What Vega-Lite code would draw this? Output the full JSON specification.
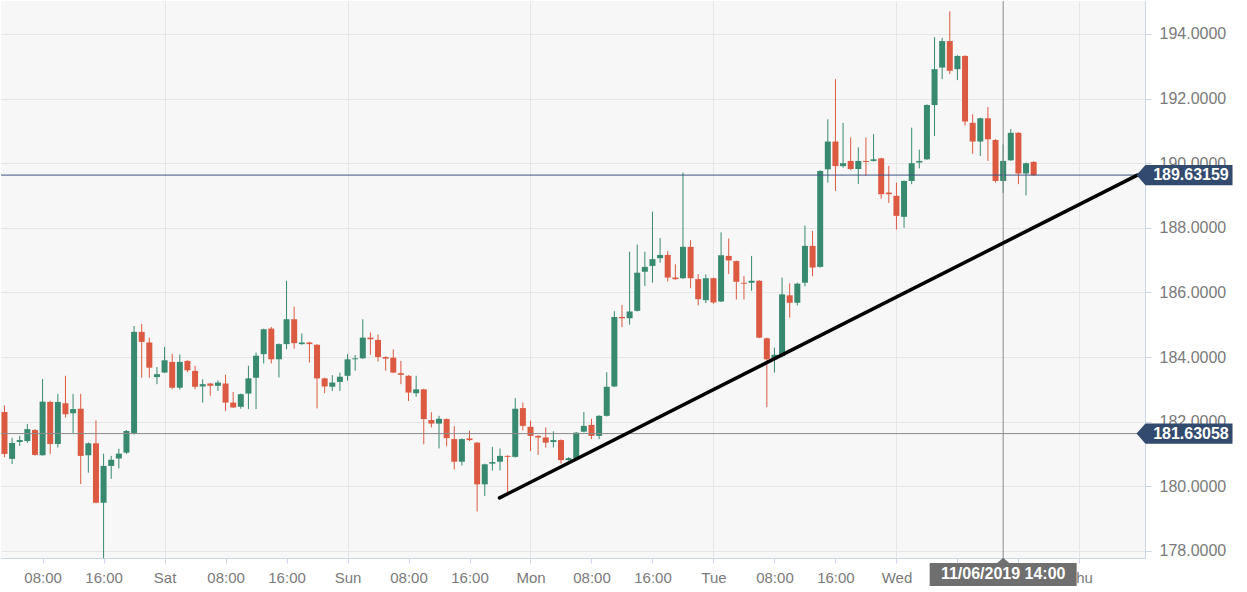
{
  "$schema": "https://vega.github.io/schema/vega-lite/v6.json",
  "width": 1144,
  "height": 557,
  "padding": 0,
  "autosize": {"type": "pad"},
  "background": "white",
  "config": {
    "font": "Liberation Sans",
    "view": {"fill": "#f7f7f7", "stroke": null},
    "axis": {"labelColor": "#7a7a7a", "domainColor": "#ccd6eb", "tickColor": "#ccd6eb", "gridColor": "#e6e6e6"}
  },
  "resolve": {"axis": {"x": "independent", "y": "independent"}},
  "datasets": {
    "candles": [
      {"d":"2019-11-01T03:00","o":182.3,"h":182.5,"l":180.9,"c":181.0},
      {"d":"2019-11-01T04:00","o":180.85,"h":181.5,"l":180.69,"c":181.34},
      {"d":"2019-11-01T05:00","o":181.37,"h":181.56,"l":181.25,"c":181.43},
      {"d":"2019-11-01T06:00","o":181.4,"h":181.93,"l":181.34,"c":181.77},
      {"d":"2019-11-01T07:00","o":181.74,"h":181.77,"l":180.95,"c":180.97},
      {"d":"2019-11-01T08:00","o":180.96,"h":183.32,"l":180.95,"c":182.62},
      {"d":"2019-11-01T09:00","o":182.61,"h":182.65,"l":181.0,"c":181.31},
      {"d":"2019-11-01T10:00","o":181.31,"h":182.86,"l":181.2,"c":182.61},
      {"d":"2019-11-01T11:00","o":182.57,"h":183.42,"l":182.13,"c":182.23},
      {"d":"2019-11-01T12:00","o":182.26,"h":182.86,"l":181.62,"c":182.39},
      {"d":"2019-11-01T13:00","o":182.4,"h":182.86,"l":180.07,"c":180.94},
      {"d":"2019-11-01T14:00","o":180.96,"h":181.36,"l":180.42,"c":181.33},
      {"d":"2019-11-01T15:00","o":181.33,"h":182.04,"l":179.47,"c":179.49},
      {"d":"2019-11-01T16:00","o":179.49,"h":181.01,"l":177.6,"c":180.63},
      {"d":"2019-11-01T17:00","o":180.63,"h":180.94,"l":180.23,"c":180.82},
      {"d":"2019-11-01T18:00","o":180.86,"h":181.16,"l":180.55,"c":181.01},
      {"d":"2019-11-01T19:00","o":181.04,"h":181.74,"l":181.0,"c":181.71},
      {"d":"2019-11-01T20:00","o":181.65,"h":184.96,"l":181.6,"c":184.78},
      {"d":"2019-11-01T21:00","o":184.78,"h":185.02,"l":183.36,"c":184.47},
      {"d":"2019-11-01T22:00","o":184.45,"h":184.6,"l":183.36,"c":183.67},
      {"d":"2019-11-01T23:00","o":183.38,"h":183.69,"l":183.16,"c":183.47},
      {"d":"2019-11-02T00:00","o":183.52,"h":184.31,"l":183.5,"c":183.9},
      {"d":"2019-11-02T01:00","o":183.85,"h":184.1,"l":183.0,"c":183.05},
      {"d":"2019-11-02T02:00","o":183.05,"h":184.08,"l":182.99,"c":183.85},
      {"d":"2019-11-02T03:00","o":183.88,"h":183.9,"l":183.53,"c":183.59},
      {"d":"2019-11-02T04:00","o":183.57,"h":183.73,"l":183.0,"c":183.08},
      {"d":"2019-11-02T05:00","o":183.09,"h":183.31,"l":182.59,"c":183.16},
      {"d":"2019-11-02T06:00","o":183.18,"h":183.2,"l":182.8,"c":183.11},
      {"d":"2019-11-02T07:00","o":183.11,"h":183.28,"l":182.95,"c":183.21},
      {"d":"2019-11-02T08:00","o":183.18,"h":183.45,"l":182.33,"c":182.59},
      {"d":"2019-11-02T09:00","o":182.59,"h":182.92,"l":182.42,"c":182.44},
      {"d":"2019-11-02T10:00","o":182.46,"h":182.87,"l":182.4,"c":182.85},
      {"d":"2019-11-02T11:00","o":182.87,"h":183.73,"l":182.39,"c":183.34},
      {"d":"2019-11-02T12:00","o":183.36,"h":184.14,"l":182.39,"c":184.04},
      {"d":"2019-11-02T13:00","o":184.09,"h":184.88,"l":183.8,"c":184.86},
      {"d":"2019-11-02T14:00","o":184.88,"h":184.93,"l":183.8,"c":183.93},
      {"d":"2019-11-02T15:00","o":183.93,"h":184.42,"l":183.37,"c":184.4},
      {"d":"2019-11-02T16:00","o":184.4,"h":186.36,"l":184.24,"c":185.17},
      {"d":"2019-11-02T17:00","o":185.17,"h":185.56,"l":184.26,"c":184.43},
      {"d":"2019-11-02T18:00","o":184.4,"h":184.73,"l":184.38,"c":184.45},
      {"d":"2019-11-02T19:00","o":184.45,"h":184.47,"l":183.83,"c":184.4},
      {"d":"2019-11-02T20:00","o":184.38,"h":184.4,"l":182.41,"c":183.34},
      {"d":"2019-11-02T21:00","o":183.34,"h":183.36,"l":182.88,"c":183.09},
      {"d":"2019-11-02T22:00","o":183.08,"h":183.44,"l":182.95,"c":183.21},
      {"d":"2019-11-02T23:00","o":183.23,"h":183.52,"l":182.95,"c":183.39},
      {"d":"2019-11-03T00:00","o":183.42,"h":184.09,"l":183.27,"c":183.93},
      {"d":"2019-11-03T01:00","o":183.93,"h":184.06,"l":183.58,"c":183.96},
      {"d":"2019-11-03T02:00","o":183.96,"h":185.17,"l":183.94,"c":184.6},
      {"d":"2019-11-03T03:00","o":184.6,"h":184.76,"l":184.07,"c":184.55},
      {"d":"2019-11-03T04:00","o":184.53,"h":184.7,"l":183.86,"c":184.0},
      {"d":"2019-11-03T05:00","o":184.0,"h":184.02,"l":183.58,"c":183.95},
      {"d":"2019-11-03T06:00","o":183.98,"h":184.24,"l":183.5,"c":183.52},
      {"d":"2019-11-03T07:00","o":183.5,"h":183.88,"l":183.16,"c":183.45},
      {"d":"2019-11-03T08:00","o":183.42,"h":183.44,"l":182.64,"c":182.9},
      {"d":"2019-11-03T09:00","o":182.88,"h":183.42,"l":182.77,"c":183.0},
      {"d":"2019-11-03T10:00","o":183.0,"h":183.02,"l":181.3,"c":182.08},
      {"d":"2019-11-03T11:00","o":182.05,"h":182.29,"l":181.82,"c":181.94},
      {"d":"2019-11-03T12:00","o":181.94,"h":182.18,"l":181.17,"c":182.09},
      {"d":"2019-11-03T13:00","o":182.08,"h":182.1,"l":181.24,"c":181.49},
      {"d":"2019-11-03T14:00","o":181.46,"h":181.86,"l":180.52,"c":180.76},
      {"d":"2019-11-03T15:00","o":180.76,"h":181.48,"l":180.64,"c":181.46},
      {"d":"2019-11-03T16:00","o":181.48,"h":181.72,"l":181.4,"c":181.43},
      {"d":"2019-11-03T17:00","o":181.35,"h":181.37,"l":179.22,"c":180.06},
      {"d":"2019-11-03T18:00","o":180.06,"h":180.7,"l":179.7,"c":180.68},
      {"d":"2019-11-03T19:00","o":180.7,"h":181.22,"l":180.49,"c":180.75},
      {"d":"2019-11-03T20:00","o":180.76,"h":181.17,"l":180.49,"c":180.94},
      {"d":"2019-11-03T21:00","o":180.94,"h":180.96,"l":179.78,"c":180.91},
      {"d":"2019-11-03T22:00","o":180.91,"h":182.73,"l":180.89,"c":182.4},
      {"d":"2019-11-03T23:00","o":182.42,"h":182.59,"l":181.73,"c":181.87},
      {"d":"2019-11-04T00:00","o":181.84,"h":182.03,"l":181.09,"c":181.56},
      {"d":"2019-11-04T01:00","o":181.56,"h":181.58,"l":180.97,"c":181.51},
      {"d":"2019-11-04T02:00","o":181.51,"h":181.82,"l":181.2,"c":181.35},
      {"d":"2019-11-04T03:00","o":181.37,"h":181.7,"l":181.2,"c":181.43},
      {"d":"2019-11-04T04:00","o":181.43,"h":181.45,"l":180.7,"c":180.81},
      {"d":"2019-11-04T05:00","o":180.81,"h":180.9,"l":180.79,"c":180.87},
      {"d":"2019-11-04T06:00","o":180.87,"h":181.68,"l":180.85,"c":181.66},
      {"d":"2019-11-04T07:00","o":181.69,"h":182.3,"l":181.67,"c":181.87},
      {"d":"2019-11-04T08:00","o":181.9,"h":182.09,"l":181.46,"c":181.56},
      {"d":"2019-11-04T09:00","o":181.56,"h":182.2,"l":181.46,"c":182.18},
      {"d":"2019-11-04T10:00","o":182.18,"h":183.53,"l":182.16,"c":183.08},
      {"d":"2019-11-04T11:00","o":183.09,"h":185.42,"l":183.07,"c":185.24},
      {"d":"2019-11-04T12:00","o":185.24,"h":185.61,"l":184.93,"c":185.2},
      {"d":"2019-11-04T13:00","o":185.2,"h":187.26,"l":185.0,"c":185.41},
      {"d":"2019-11-04T14:00","o":185.43,"h":187.48,"l":185.41,"c":186.61},
      {"d":"2019-11-04T15:00","o":186.64,"h":187.26,"l":186.2,"c":186.79},
      {"d":"2019-11-04T16:00","o":186.82,"h":188.5,"l":186.3,"c":187.03},
      {"d":"2019-11-04T17:00","o":187.06,"h":187.68,"l":186.92,"c":187.16},
      {"d":"2019-11-04T18:00","o":187.16,"h":187.28,"l":186.34,"c":186.46},
      {"d":"2019-11-04T19:00","o":186.46,"h":186.87,"l":186.39,"c":186.41},
      {"d":"2019-11-04T20:00","o":186.44,"h":189.71,"l":186.42,"c":187.41},
      {"d":"2019-11-04T21:00","o":187.41,"h":187.62,"l":186.13,"c":186.44},
      {"d":"2019-11-04T22:00","o":186.41,"h":186.56,"l":185.6,"c":185.79},
      {"d":"2019-11-04T23:00","o":185.76,"h":186.56,"l":185.67,"c":186.44},
      {"d":"2019-11-05T00:00","o":186.44,"h":186.46,"l":185.65,"c":185.69},
      {"d":"2019-11-05T01:00","o":185.72,"h":187.86,"l":185.7,"c":187.15},
      {"d":"2019-11-05T02:00","o":187.13,"h":187.67,"l":186.57,"c":186.99},
      {"d":"2019-11-05T03:00","o":186.97,"h":186.99,"l":185.78,"c":186.33},
      {"d":"2019-11-05T04:00","o":186.3,"h":186.51,"l":185.78,"c":186.27},
      {"d":"2019-11-05T05:00","o":186.3,"h":187.13,"l":186.05,"c":186.36},
      {"d":"2019-11-05T06:00","o":186.36,"h":186.38,"l":184.58,"c":184.6},
      {"d":"2019-11-05T07:00","o":184.58,"h":184.6,"l":182.45,"c":183.93},
      {"d":"2019-11-05T08:00","o":183.93,"h":184.29,"l":183.52,"c":184.07},
      {"d":"2019-11-05T09:00","o":184.03,"h":186.46,"l":184.01,"c":185.94},
      {"d":"2019-11-05T10:00","o":185.91,"h":186.28,"l":185.22,"c":185.68},
      {"d":"2019-11-05T11:00","o":185.68,"h":186.3,"l":185.6,"c":186.27},
      {"d":"2019-11-05T12:00","o":186.3,"h":188.07,"l":186.19,"c":187.44},
      {"d":"2019-11-05T13:00","o":187.44,"h":187.9,"l":186.5,"c":186.77},
      {"d":"2019-11-05T14:00","o":186.79,"h":189.78,"l":186.77,"c":189.76},
      {"d":"2019-11-05T15:00","o":189.81,"h":191.36,"l":189.4,"c":190.67},
      {"d":"2019-11-05T16:00","o":190.67,"h":192.6,"l":189.14,"c":189.91},
      {"d":"2019-11-05T17:00","o":189.91,"h":191.25,"l":189.86,"c":190.0},
      {"d":"2019-11-05T18:00","o":190.07,"h":190.8,"l":189.78,"c":189.82},
      {"d":"2019-11-05T19:00","o":189.82,"h":190.49,"l":189.36,"c":190.07},
      {"d":"2019-11-05T20:00","o":190.07,"h":190.79,"l":189.61,"c":190.04},
      {"d":"2019-11-05T21:00","o":190.07,"h":190.9,"l":190.05,"c":190.12},
      {"d":"2019-11-05T22:00","o":190.15,"h":190.17,"l":188.9,"c":189.04},
      {"d":"2019-11-05T23:00","o":189.09,"h":189.92,"l":188.77,"c":189.04},
      {"d":"2019-11-06T00:00","o":188.99,"h":189.4,"l":187.95,"c":188.37},
      {"d":"2019-11-06T01:00","o":188.34,"h":189.47,"l":188.0,"c":189.45},
      {"d":"2019-11-06T02:00","o":189.45,"h":191.1,"l":189.35,"c":190.0},
      {"d":"2019-11-06T03:00","o":190.02,"h":190.42,"l":189.84,"c":190.07},
      {"d":"2019-11-06T04:00","o":190.12,"h":191.82,"l":190.1,"c":191.8},
      {"d":"2019-11-06T05:00","o":191.8,"h":193.9,"l":190.84,"c":192.91},
      {"d":"2019-11-06T06:00","o":192.96,"h":193.88,"l":192.6,"c":193.78},
      {"d":"2019-11-06T07:00","o":193.78,"h":194.7,"l":192.76,"c":192.86},
      {"d":"2019-11-06T08:00","o":192.91,"h":193.34,"l":192.57,"c":193.32},
      {"d":"2019-11-06T09:00","o":193.32,"h":193.34,"l":191.16,"c":191.29},
      {"d":"2019-11-06T10:00","o":191.25,"h":191.51,"l":190.29,"c":190.67},
      {"d":"2019-11-06T11:00","o":190.67,"h":191.41,"l":190.22,"c":191.39},
      {"d":"2019-11-06T12:00","o":191.39,"h":191.74,"l":190.07,"c":190.74},
      {"d":"2019-11-06T13:00","o":190.72,"h":190.74,"l":189.4,"c":189.45},
      {"d":"2019-11-06T14:00","o":189.45,"h":190.58,"l":189.08,"c":190.07},
      {"d":"2019-11-06T15:00","o":190.09,"h":191.06,"l":190.07,"c":190.94},
      {"d":"2019-11-06T16:00","o":190.94,"h":190.96,"l":189.35,"c":189.68},
      {"d":"2019-11-06T17:00","o":189.68,"h":190.02,"l":189.0,"c":190.0},
      {"d":"2019-11-06T18:00","o":190.04,"h":190.06,"l":189.6,"c":189.63}
    ],
    "trend": [
      {"d":"2019-11-03T19:56","v":179.64},
      {"d":"2019-11-07T07:36","v":189.63}
    ],
    "levels": [
      {"v":189.63159,"k":"price"},
      {"v":181.63058,"k":"cross"}
    ],
    "crossx": [{"d":"2019-11-06T14:00"}],
    "tags": [
      {"d":"2019-11-07T13:47","t":"2019-11-07T14:38","v":189.63159,"label":"189.63159"},
      {"d":"2019-11-07T13:47","t":"2019-11-07T14:38","v":181.63058,"label":"181.63058"}
    ],
    "timetag": [{"d":"2019-11-06T14:00","v":177.27,"label":"11/06/2019 14:00"}]
  },
  "layer": [
    {
      "data": {"name": "candles"},
      "mark": {"type": "rule", "strokeWidth": 1, "clip": true},
      "encoding": {
        "x": {"field": "d", "type": "temporal",
          "scale": {"domain": [{"year":2019,"month":11,"date":1,"hours":3,"minutes":12},{"year":2019,"month":11,"date":7,"hours":7,"minutes":57}]},
          "axis": {"title": null, "orient": "bottom", "grid": false, "format": "%H:%M",
            "values": [
              {"year":2019,"month":11,"date":1,"hours":8},{"year":2019,"month":11,"date":1,"hours":16},
              {"year":2019,"month":11,"date":2,"hours":8},{"year":2019,"month":11,"date":2,"hours":16},
              {"year":2019,"month":11,"date":3,"hours":8},{"year":2019,"month":11,"date":3,"hours":16},
              {"year":2019,"month":11,"date":4,"hours":8},{"year":2019,"month":11,"date":4,"hours":16},
              {"year":2019,"month":11,"date":5,"hours":8},{"year":2019,"month":11,"date":5,"hours":16},
              {"year":2019,"month":11,"date":6,"hours":8},{"year":2019,"month":11,"date":6,"hours":16}],
            "tickSize": 5, "labelPadding": 7, "labelFontSize": 15, "labelFlush": false, "labelOverlap": false}},
        "y": {"field": "l", "type": "quantitative",
          "scale": {"domain": [177.78, 195.02], "nice": false, "zero": false},
          "axis": null},
        "y2": {"field": "h"},
        "color": {"condition": {"test": "datum.c >= datum.o", "value": "#378a70"}, "value": "#dc5a42"}
      }
    },
    {
      "data": {"name": "candles"},
      "mark": {"type": "bar", "size": 6, "clip": true},
      "encoding": {
        "x": {"field": "d", "type": "temporal",
          "axis": {"title": null, "orient": "bottom", "grid": true, "format": "%a",
            "values": [
              {"year":2019,"month":11,"date":2},{"year":2019,"month":11,"date":3},
              {"year":2019,"month":11,"date":4},{"year":2019,"month":11,"date":5},
              {"year":2019,"month":11,"date":6},{"year":2019,"month":11,"date":7}],
            "tickSize": 5, "labelPadding": 7, "labelFontSize": 15, "labelFlush": false, "labelOverlap": false, "domain": false}},
        "y": {"field": "o", "type": "quantitative", "axis": null},
        "y2": {"field": "c"},
        "color": {"condition": {"test": "datum.c >= datum.o", "value": "#378a70"}, "value": "#dc5a42"}
      }
    },
    {
      "data": {"name": "levels"},
      "mark": {"type": "rule", "strokeWidth": 1},
      "encoding": {
        "y": {"field": "v", "type": "quantitative",
          "axis": {"title": null, "orient": "right", "values": [178,180,182,184,186,188,190,192,194], "format": ".4f", "labelFontSize": 16, "tickSize": 6, "labelPadding": 8, "grid": true, "labelFlush": false}},
        "color": {"condition": {"test": "datum.k == 'price'", "value": "#3b5382"}, "value": "#8a8a8a"}
      }
    },
    {
      "data": {"name": "crossx"},
      "mark": {"type": "rule", "strokeWidth": 1, "color": "#8a8a8a"},
      "encoding": {
        "x": {"field": "d", "type": "temporal", "axis": null}
      }
    },
    {
      "data": {"name": "trend"},
      "mark": {"type": "line", "strokeWidth": 3.5, "color": "#000000", "strokeCap": "round"},
      "encoding": {
        "x": {"field": "d", "type": "temporal", "axis": null},
        "y": {"field": "v", "type": "quantitative", "axis": null}
      }
    },
    {
      "data": {"name": "tags"},
      "mark": {"type": "point", "filled": true, "opacity": 1, "color": "#324a6e", "strokeWidth": 0, "size": 9216,
        "shape": "M-1,0 L-0.8125,-0.21 L1,-0.21 L1,0.21 L-0.8125,0.21 Z"},
      "encoding": {
        "x": {"field": "d", "type": "temporal", "axis": null},
        "y": {"field": "v", "type": "quantitative", "axis": null}
      }
    },
    {
      "data": {"name": "tags"},
      "mark": {"type": "text", "color": "white", "fontWeight": "bold", "fontSize": 16, "align": "center", "baseline": "middle"},
      "encoding": {
        "x": {"field": "t", "type": "temporal", "axis": null},
        "y": {"field": "v", "type": "quantitative", "axis": null},
        "text": {"field": "label"}
      }
    },
    {
      "data": {"name": "timetag"},
      "mark": {"type": "point", "filled": true, "opacity": 1, "color": "#6f6f6f", "strokeWidth": 0, "size": 21609,
        "shape": "M-1,-0.1565 L-0.082,-0.1565 L0,-0.227 L0.082,-0.1565 L1,-0.1565 L1,0.1565 L-1,0.1565 Z"},
      "encoding": {
        "x": {"field": "d", "type": "temporal", "axis": null},
        "y": {"field": "v", "type": "quantitative", "axis": null}
      }
    },
    {
      "data": {"name": "timetag"},
      "mark": {"type": "text", "color": "white", "fontWeight": "bold", "fontSize": 16, "align": "center", "baseline": "middle"},
      "encoding": {
        "x": {"field": "d", "type": "temporal", "axis": null},
        "y": {"field": "v", "type": "quantitative", "axis": null},
        "text": {"field": "label"}
      }
    }
  ]
}
